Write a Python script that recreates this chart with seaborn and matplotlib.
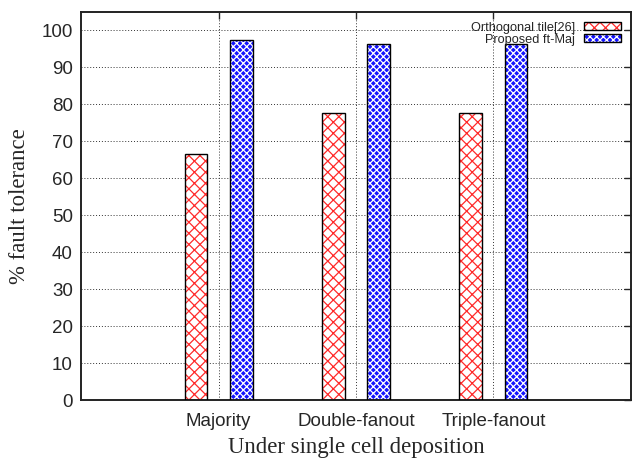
import matplotlib
matplotlib.use("Agg")
import matplotlib.pyplot as plt
import seaborn as sns
import pandas as pd
from matplotlib.patches import Patch
from matplotlib.legend_handler import HandlerTuple

categories = ["Majority", "Double-fanout", "Triple-fanout"]
series_names = ["Orthogonal tile[26]", "Proposed ft-Maj"]
orthogonal = [66.7, 77.8, 77.8]
proposed = [97.5, 96.3, 96.3]
yticks = [0, 10, 20, 30, 40, 50, 60, 70, 80, 90, 100]

df = pd.DataFrame({
    "cat": categories * 2,
    "series": [series_names[0]] * 3 + [series_names[1]] * 3,
    "val": orthogonal + proposed,
})

sns.set_style("white")
plt.rcParams["hatch.linewidth"] = 0.9

RED = "#ff2a2a"
BLUE = "#1414ff"

fig = plt.figure(figsize=(6.34, 4.61), dpi=100)
ax = fig.add_axes([0.128, 0.132, 0.867, 0.842])

sns.barplot(data=df, x="cat", y="val", hue="series", order=categories,
            hue_order=series_names, width=0.66, gap=0.5, ax=ax,
            legend=False, errorbar=None, saturation=1)

bars = [p for p in ax.patches]
for i, p in enumerate(bars):
    if i < 3:
        p.set_facecolor("white")
        p.set_edgecolor(RED)
        p.set_hatch("xxx")
        p.set_linewidth(0)
    else:
        p.set_facecolor(BLUE)
        p.set_edgecolor("white")
        p.set_hatch("xxxxx")
        p.set_linewidth(0)
    ax.add_patch(plt.Rectangle(p.get_xy(), p.get_width(), p.get_height(),
                               fill=False, edgecolor="black", linewidth=1.0, zorder=3))

ax.set_xlim(-1, 3)
ax.set_ylim(0, 105)
ax.set_yticks(yticks)
ax.set_xticks(range(len(categories)))
ax.set_xticklabels(categories)

ax.grid(True, linestyle=(0, (1, 2)), color="#333333", linewidth=0.7)
ax.set_axisbelow(True)
for s in ax.spines.values():
    s.set_color("#222222")
    s.set_linewidth(1.4)
ax.tick_params(direction="in", length=5, width=1, top=True, right=True,
               labelsize=13.5)
ax.tick_params(axis="x", pad=9)
ax.tick_params(axis="y", pad=6)
for t in ax.get_xticklabels() + ax.get_yticklabels():
    t.set_fontfamily("Liberation Sans")

ax.set_xlabel("Under single cell deposition", family="Liberation Serif", fontsize=16.4, labelpad=5)
ax.set_ylabel("% fault tolerance", family="Liberation Serif", fontsize=16.4, labelpad=8)

h1 = Patch(facecolor="white", edgecolor=RED, hatch="xxx", linewidth=0)
h2 = Patch(facecolor=BLUE, edgecolor="white", hatch="xxxxx", linewidth=0)
o1 = Patch(fill=False, edgecolor="black", linewidth=1.0)
o2 = Patch(fill=False, edgecolor="black", linewidth=1.0)
leg = ax.legend([(h1, o1), (h2, o2)], series_names, loc="upper right", markerfirst=False,
                frameon=False, prop={"family": "Liberation Sans", "size": 9.2},
                handlelength=2.9, handleheight=0.55, labelspacing=0.0,
                borderaxespad=0.45, borderpad=0.3, handletextpad=0.7,
                handler_map={tuple: HandlerTuple(ndivide=1)})

fig.savefig("out.png", dpi=100)
